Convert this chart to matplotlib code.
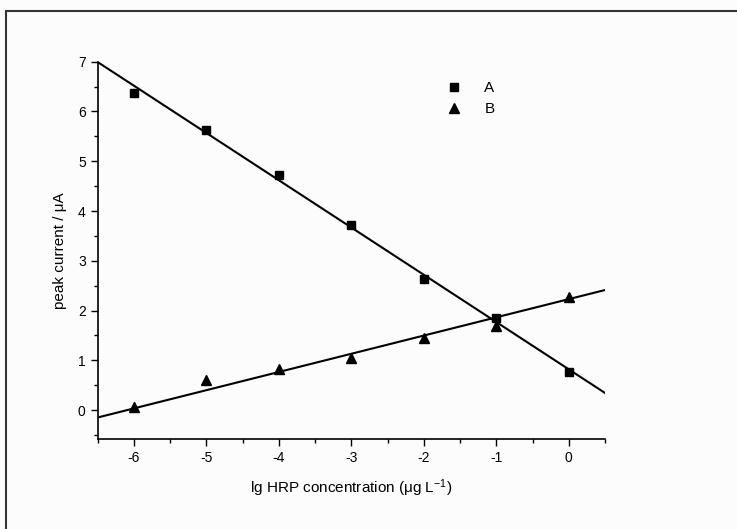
import numpy as np
import matplotlib
matplotlib.use("Agg")
import matplotlib.pyplot as plt
from matplotlib.patches import Rectangle
from matplotlib.ticker import MultipleLocator

plt.rcParams["font.family"] = ["Liberation Sans", "DejaVu Sans"]
plt.rcParams["axes.unicode_minus"] = False
plt.rcParams["mathtext.default"] = "regular"

# data
lg_conc = [-6, -5, -4, -3, -2, -1, 0]
current_A = [6.37, 5.62, 4.72, 3.71, 2.63, 1.85, 0.76]
current_B = [0.07, 0.61, 0.82, 1.05, 1.45, 1.69, 2.27]
err_B = [0.09, 0.09, 0.07, 0.07, 0.08, 0.08, 0.08]
# fitted lines (slope, intercept) as drawn in the figure
fit_A = (-0.95, 0.82)
fit_B = (0.366, 2.23)

fig = plt.figure(figsize=(7.37, 5.29), dpi=100)
fig.patch.set_facecolor("#fcfcfc")
# outer frame (top and left edges visible)
fig.patches.append(Rectangle((6 / 737, -0.1), 1.2, 1 - 11 / 529 + 0.1,
                             transform=fig.transFigure, fill=False,
                             edgecolor="#333333", linewidth=1.5))

ax = fig.add_axes([97.5 / 737, 1 - 439 / 529, (605 - 97.5) / 737, (439 - 61.7) / 529])
ax.set_facecolor("#fcfcfc")

xl = np.array([-6.5, 0.5])
ax.plot(xl, fit_A[0] * xl + fit_A[1], color="black", lw=1.5)
ax.plot(xl, fit_B[0] * xl + fit_B[1], color="black", lw=1.5)

ax.plot(lg_conc, current_A, "s", color="black", ms=5.2, label="A", zorder=5)
ax.errorbar(lg_conc, current_B, yerr=err_B, fmt="none", ecolor="black",
            elinewidth=0.8, capsize=0, zorder=4)
ax.plot(lg_conc, current_B, "^", color="black", ms=6.5, label="B", zorder=5)

ax.set_xlim(-6.5, 0.5)
ax.set_ylim(-0.58, 7)
ax.xaxis.set_major_locator(MultipleLocator(1))
ax.xaxis.set_minor_locator(MultipleLocator(0.5))
ax.yaxis.set_major_locator(MultipleLocator(1))
ax.yaxis.set_minor_locator(MultipleLocator(0.5))
ax.tick_params(which="major", direction="out", length=5, width=1, labelsize=10)
ax.tick_params(which="minor", direction="out", length=3, width=1)
for s in ["top", "right"]:
    ax.spines[s].set_visible(False)
for s in ["left", "bottom"]:
    ax.spines[s].set_linewidth(1.2)

ax.set_xlabel("lg HRP concentration (\u03bcg L$^{-1}$)", fontsize=11, labelpad=9)
ax.set_ylabel("peak current / \u03bcA", fontsize=11, labelpad=8)

ax.legend(loc="upper left", bbox_to_anchor=(0.66, 0.985), frameon=False,
          handletextpad=1.5, fontsize=11, labelspacing=0.45, handlelength=1.0)

fig.savefig("out.png", dpi=100, facecolor=fig.get_facecolor())
